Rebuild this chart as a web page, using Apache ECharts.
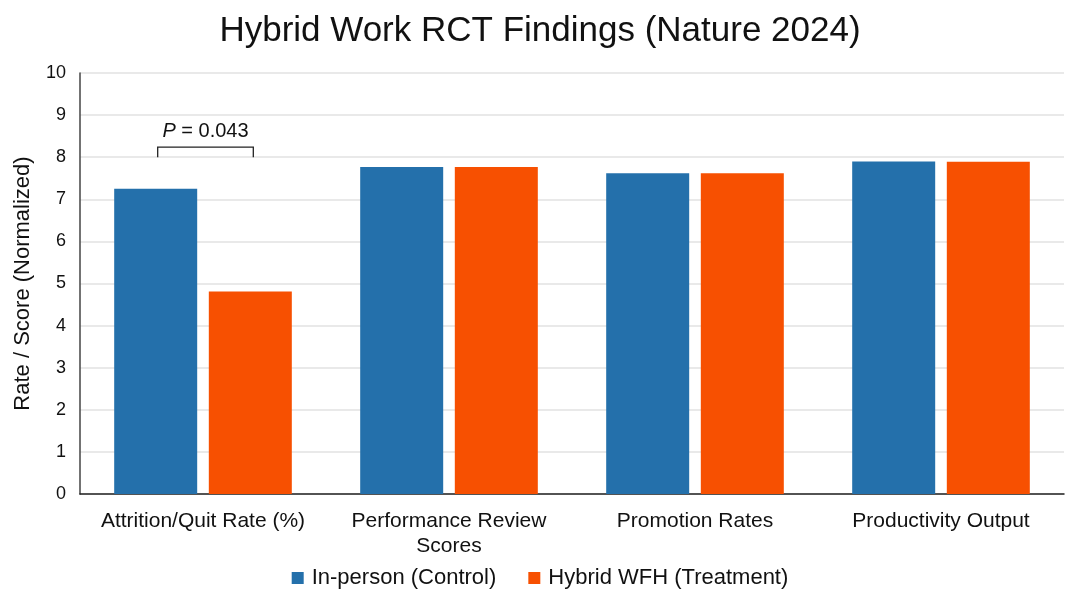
<!DOCTYPE html>
<html lang="en">
<head>
    <meta charset="UTF-8">
    <title>Hybrid Work RCT Findings</title>
    <script src="https://cdn.jsdelivr.net/npm/echarts@6/dist/echarts.min.js"></script>
    <style>
        html, body { margin: 0; padding: 0; background: #fff; }
        #main { width: 1080px; height: 603px; }
    </style>
</head>
<body>
<div id="main"></div>
<script type="text/javascript">
    // data
    var categories = ['Attrition/Quit Rate (%)', 'Performance Review\nScores', 'Promotion Rates', 'Productivity Output'];
    var controlVals = [7.25, 7.77, 7.62, 7.90];
    var treatVals = [4.81, 7.77, 7.62, 7.89];
    var seriesNames = ['In-person (Control)', 'Hybrid WFH (Treatment)'];
    var yTicks = [0, 10, 1];   // min, max, step
    var pLabel = '0.043';
    var bracketLevel = [8, 8.24]; // bracket feet / top, in axis units

    var font = "'Liberation Sans', Arial, Helvetica, sans-serif";
    var myChart = echarts.init(document.getElementById('main'));

    var option = {
        backgroundColor: '#fff',
        animation: false,
        title: {
            text: 'Hybrid Work RCT Findings (Nature 2024)',
            left: 'center',
            top: 9,
            textStyle: {fontFamily: font, fontSize: 35, fontWeight: 'normal', color: '#111'}
        },
        legend: {
            data: seriesNames,
            bottom: 9,
            left: 'center',
            itemWidth: 12,
            itemHeight: 12,
            itemGap: 32,
            icon: 'rect',
            textStyle: {fontFamily: font, fontSize: 22, color: '#111', padding: [0, 0, 0, 3]}
        },
        grid: {left: 80, right: 16, top: 73, bottom: 109},
        xAxis: {
            type: 'category',
            data: categories,
            axisLine: {lineStyle: {color: '#222', width: 1.5}},
            axisTick: {show: false},
            axisLabel: {fontFamily: font, fontSize: 21, color: '#111', margin: 15, lineHeight: 25, interval: 0}
        },
        yAxis: {
            type: 'value',
            min: yTicks[0],
            max: yTicks[1],
            interval: yTicks[2],
            name: 'Rate / Score (Normalized)',
            nameLocation: 'middle',
            nameGap: 46,
            nameTextStyle: {fontFamily: font, fontSize: 22, color: '#111'},
            axisLine: {show: true, lineStyle: {color: '#444', width: 1.5}},
            axisTick: {show: false},
            axisLabel: {fontFamily: font, fontSize: 18, color: '#111', margin: 14},
            splitLine: {lineStyle: {color: '#e2e2e2', width: 1.5}}
        },
        series: [{
            name: seriesNames[0],
            type: 'bar',
            data: controlVals,
            barWidth: 83,
            barGap: '14%',
            itemStyle: {color: '#2470ab'}
        }, {
            name: seriesNames[1],
            type: 'bar',
            data: treatVals,
            barWidth: 83,
            itemStyle: {color: '#f75001'}
        }]
    };

    myChart.setOption(option);

    // significance bracket between the two bars of the first category
    function drawBracket() {
        var model = myChart.getModel();
        var l0 = model.getSeriesByIndex(0).getData().getItemLayout(0);
        var l1 = model.getSeriesByIndex(1).getData().getItemLayout(0);
        var x0 = l0.x + l0.width / 2 + 2;
        var x1 = l1.x + l1.width / 2 + 3;
        var yFoot = myChart.convertToPixel({yAxisIndex: 0}, bracketLevel[0]);
        var yTop = myChart.convertToPixel({yAxisIndex: 0}, bracketLevel[1]);
        myChart.setOption({
            graphic: [{
                type: 'polyline',
                shape: {points: [[x0, yFoot], [x0, yTop], [x1, yTop], [x1, yFoot]]},
                style: {stroke: '#222', lineWidth: 1.3, fill: null}
            }, {
                type: 'text',
                x: (x0 + x1) / 2,
                y: yTop - 6,
                style: {
                    text: '{i|P} = ' + pLabel,
                    align: 'center',
                    verticalAlign: 'bottom',
                    font: '20px ' + font,
                    fill: '#111',
                    rich: {i: {fontStyle: 'italic', fontSize: 20, fontFamily: font, fill: '#111'}}
                }
            }]
        });
    }
    drawBracket();
</script>
</body>
</html>
